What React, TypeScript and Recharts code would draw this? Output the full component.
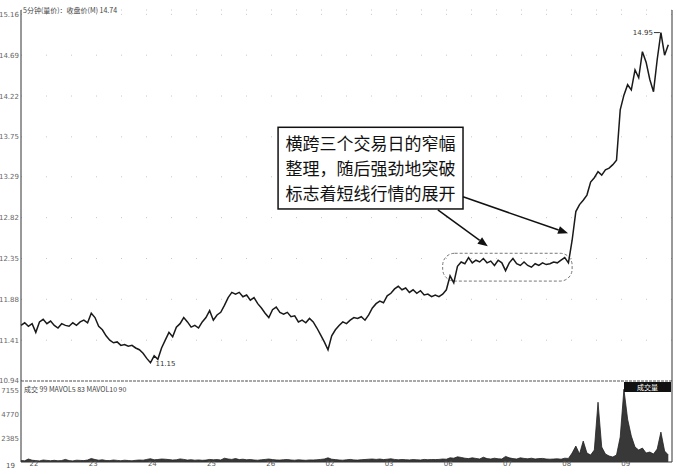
import { LineChart, Line, AreaChart, Area, XAxis, YAxis, CartesianGrid, ReferenceArea, ReferenceLine, ReferenceDot } from 'recharts';

// one point every 1/16 of a trading day
const dayLabels = ['22', '23', '24', '25', '26', '02', '03', '06', '07', '08', '09'];
const dayStarts = [0, 16, 32, 48, 64, 80, 96, 112, 128, 144, 160];
const priceTicks = [10.94, 11.41, 11.88, 12.35, 12.82, 13.29, 13.75, 14.22, 14.69, 15.16];
const volumeTicks = [2385, 4770, 7155];

const price = [
  11.58, 11.61, 11.57, 11.6, 11.5, 11.62, 11.65, 11.6, 11.63, 11.58, 11.55, 11.6, 11.58, 11.57, 11.61, 11.58,
  11.62, 11.64, 11.61, 11.72, 11.67, 11.57, 11.53, 11.46, 11.41, 11.38, 11.39, 11.35, 11.36, 11.34, 11.35, 11.32,
  11.3, 11.26, 11.2, 11.15, 11.23, 11.19, 11.32, 11.41, 11.5, 11.45, 11.56, 11.6, 11.67, 11.62, 11.56, 11.58,
  11.55, 11.62, 11.67, 11.75, 11.64, 11.7, 11.73, 11.81, 11.9, 11.96, 11.94, 11.96, 11.91, 11.93, 11.87, 11.9,
  11.83, 11.78, 11.72, 11.67, 11.76, 11.79, 11.73, 11.71, 11.73, 11.68, 11.69, 11.62, 11.64, 11.61, 11.66, 11.62,
  11.55, 11.47, 11.39, 11.3, 11.46, 11.53, 11.58, 11.62, 11.6, 11.64, 11.67, 11.66, 11.68, 11.64, 11.7, 11.78,
  11.83, 11.86, 11.84, 11.92, 11.95, 12.0, 12.03, 11.99, 12.01, 11.96, 11.99, 11.95, 11.98, 11.93, 11.94, 11.91,
  11.93, 11.91, 11.94, 11.99, 12.15, 12.07, 12.26, 12.31, 12.29, 12.36, 12.3, 12.33, 12.31, 12.35, 12.3, 12.32,
  12.27, 12.33, 12.3, 12.21, 12.3, 12.35, 12.29, 12.27, 12.31, 12.27, 12.25, 12.29, 12.27, 12.3, 12.28, 12.29,
  12.31, 12.3, 12.33, 12.36, 12.3, 12.56, 12.89, 12.97, 13.02, 13.08, 13.23, 13.28, 13.35, 13.31, 13.37, 13.39,
  13.43, 13.48, 14.06, 14.23, 14.35, 14.29, 14.52, 14.43, 14.73, 14.61, 14.41, 14.27, 14.64, 14.95, 14.69, 14.81,
];

const volume = [
  150, 120, 300, 180, 140, 110, 200, 160, 130, 170, 120, 150, 260, 140, 110, 180,
  160, 140, 200, 350, 250, 180, 220, 150, 140, 200, 160, 130, 180, 150, 120, 170,
  200, 180, 260, 330, 220, 250, 300, 280, 240, 200, 220, 310, 260, 190, 230, 180,
  210, 170, 190, 260, 220, 240, 200, 380, 300, 260, 350, 240, 280, 220, 250, 200,
  180, 220, 260, 300, 240, 210, 190, 230, 250, 200, 180, 220, 190, 170, 210, 200,
  220, 260, 300, 420, 280, 240, 200, 180, 220, 260, 210, 190, 230, 250, 280, 300,
  260, 300, 240, 280, 320, 260, 220, 250, 230, 210, 240, 220, 200, 260, 230, 250,
  240, 260, 300, 280, 420, 380, 520, 460, 380, 340, 420, 360, 300, 480, 340, 300,
  380, 320, 300, 560, 420, 340, 300, 420, 360, 320, 380, 300, 340, 360, 300, 280,
  300, 320, 280, 380, 360, 900, 1600, 800, 2100, 900, 700, 1200, 6000, 1500, 800, 600,
  500, 700, 2500, 7300, 4300, 2600, 1500, 1200, 1400, 900, 1000, 800, 1300, 3000, 1100, 700,
];

const noteLines = ['横跨三个交易日的窄幅', '整理，随后强劲地突破', '标志着短线行情的展开'];

const data = price.map((p, i) => ({ i, price: p, vol: volume[i] }));

const axisFont = 'DejaVu Sans, sans-serif';
const cjkFont = '"Noto Sans CJK SC", sans-serif';

const DayTick = (props: any) => {
  const { x, y, payload } = props;
  const k = dayStarts.indexOf(payload.value);
  return (
    <text x={x + 13} y={y + 4} fontSize={7} fill="#555" textAnchor="middle" fontFamily={axisFont}>
      {dayLabels[k]}
    </text>
  );
};

const NoteBox = (props: any) => {
  const { x, y, width, height } = props;
  return (
    <g>
      <rect x={x} y={y} width={width} height={height} fill="#fff" stroke="#111" strokeWidth={1.5} />
      {noteLines.map((t, k) => (
        <text key={k} x={x + width / 2} y={y + 23 + k * 25} textAnchor="middle" fontSize={17}
          fontFamily={cjkFont} fill="#111">
          {t}
        </text>
      ))}
    </g>
  );
};

const RoundBox = (props: any) => {
  const { x, y, width, height } = props;
  return <rect x={x} y={y} width={width} height={height} rx={12} ry={12} fill="none"
    stroke="#777" strokeWidth={1} strokeDasharray="3 2" />;
};

const Arrow = (props: any) => {
  const { x1, y1, x2, y2 } = props;
  const a = Math.atan2(y2 - y1, x2 - x1);
  const L = 10, W = 4;
  const bx = x2 - L * Math.cos(a), by = y2 - L * Math.sin(a);
  const pts = `${x2},${y2} ${bx + W * Math.sin(a)},${by - W * Math.cos(a)} ${bx - W * Math.sin(a)},${by + W * Math.cos(a)}`;
  return (
    <g>
      <line x1={x1} y1={y1} x2={bx} y2={by} stroke="#111" strokeWidth={1.5} />
      <polygon points={pts} fill="#111" />
    </g>
  );
};

export default function App() {
  return (
    <div style={{ position: 'absolute', left: 0, top: 0, width: 677, height: 474, background: '#fff', fontFamily: axisFont }}>
      <div style={{ position: 'absolute', left: 0, top: 381, width: 677, height: 93 }}>
        <AreaChart width={677} height={93} data={data} margin={{ top: 0, right: 5, left: 0, bottom: 0 }}>
          <XAxis dataKey="i" type="number" domain={[0, 176]} ticks={dayStarts} interval={0} tick={<DayTick />}
            tickLine={false} tickSize={0} tickMargin={0} height={12} stroke="#333" />
          <YAxis domain={[0, 8130]} ticks={volumeTicks} interval={0} width={21} tickSize={0} tickMargin={2}
            tick={{ fontSize: 7, fill: '#666' }} stroke="#333" />
          <ReferenceLine x={176} stroke="#333" />
          <Area dataKey="vol" type="linear" stroke="#222" strokeWidth={0.8} fill="#222" fillOpacity={0.9}
            isAnimationActive={false} />
        </AreaChart>
      </div>
      <div style={{ position: 'absolute', left: 0, top: 0, width: 677, height: 386 }}>
        <LineChart width={677} height={386} data={data} margin={{ top: 10, right: 5, left: 0, bottom: 5 }}>
          <CartesianGrid vertical={false} stroke="#c8c8c8" strokeDasharray="1 24" />
          <XAxis dataKey="i" type="number" domain={[0, 176]} hide />
          <YAxis domain={[10.94, 15.21]} ticks={priceTicks} interval={0} width={21} tickSize={0} tickMargin={2}
            tick={{ fontSize: 7, fill: '#666' }} stroke="#333" tickFormatter={(v: number) => v.toFixed(2)} />
          <ReferenceLine y={10.94} stroke="#555" strokeDasharray="3 1" />
          <ReferenceLine x={176} stroke="#333" />
          <ReferenceArea x1={114} x2={149} y1={12.09} y2={12.41} shape={<RoundBox />} />
          <Line dataKey="price" type="linear" stroke="#1a1a1a" strokeWidth={1.5} dot={false} isAnimationActive={false} />
          <ReferenceDot x={35} y={11.15} r={0} shape={(p: any) => (
            <text x={p.cx + 5} y={p.cy + 3} fontSize={7} fill="#333" fontFamily={axisFont}>11.15</text>
          )} />
          <ReferenceDot x={173} y={14.95} r={0} shape={(p: any) => (
            <g>
              <line x1={p.cx - 7} y1={p.cy} x2={p.cx - 1} y2={p.cy} stroke="#333" />
              <text x={p.cx - 8} y={p.cy + 2} fontSize={7} fill="#333" textAnchor="end" fontFamily={axisFont}>14.95</text>
            </g>
          )} />
          <ReferenceArea x1={69.5} x2={119.5} y1={12.92} y2={13.86} shape={<NoteBox />} />
          <ReferenceLine segment={[{ x: 112.7, y: 12.91 }, { x: 126.2, y: 12.49 }]} shape={<Arrow />} />
          <ReferenceLine segment={[{ x: 119.5, y: 13.06 }, { x: 147.9, y: 12.64 }]} shape={<Arrow />} />
        </LineChart>
      </div>
      <div style={{ position: 'absolute', left: 23, top: 5, fontSize: 7, color: '#444', fontFamily: cjkFont, whiteSpace: 'nowrap' }}>
        5分钟(量价)：收盘价(M) 14.74
      </div>
      <div style={{ position: 'absolute', left: 24, top: 384, fontSize: 7, color: '#444', fontFamily: cjkFont, whiteSpace: 'nowrap' }}>
        成交 99 MAVOL5 83 MAVOL10 90
      </div>
      <div style={{ position: 'absolute', left: 624, top: 382, width: 47, height: 10, background: '#111', color: '#fff',
        fontSize: 7, lineHeight: '10px', textAlign: 'center', fontFamily: cjkFont }}>
        成交量
      </div>
      <div style={{ position: 'absolute', left: 6, top: 462, fontSize: 7, color: '#555' }}>19</div>
    </div>
  );
}
